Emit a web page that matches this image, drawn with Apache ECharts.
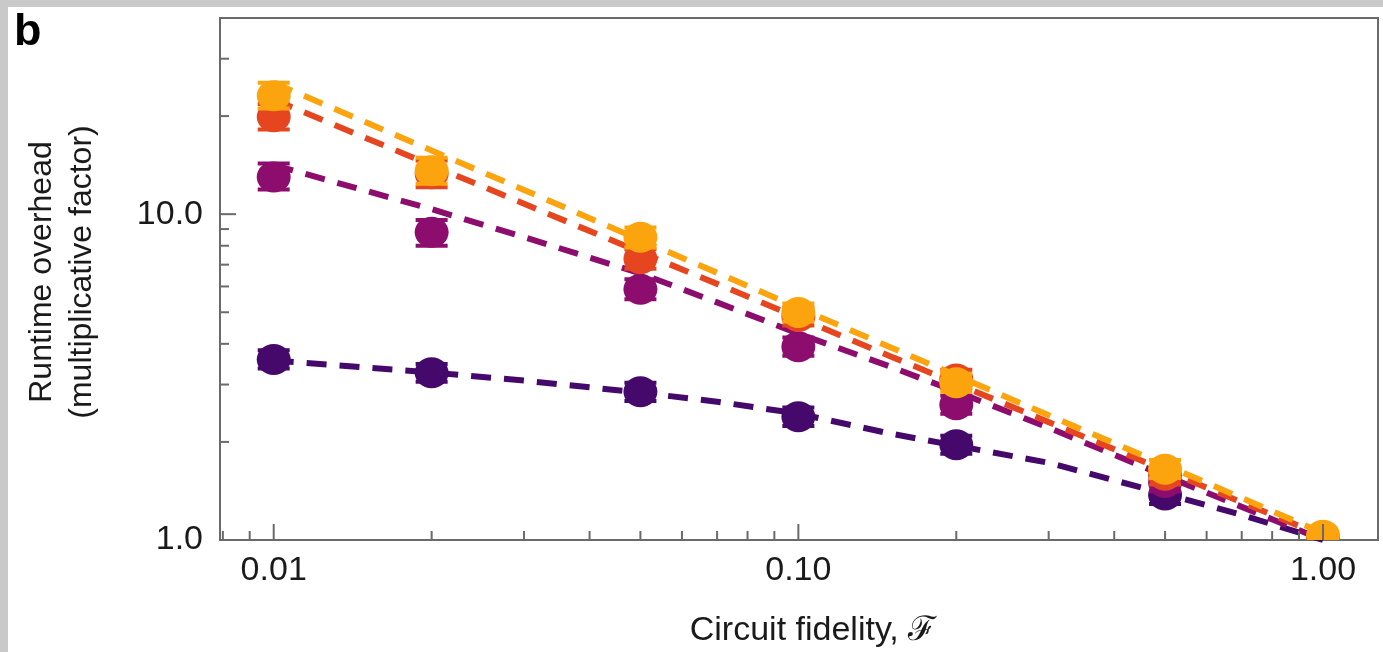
<!DOCTYPE html>
<html>
<head>
<meta charset="utf-8">
<script src="https://cdn.jsdelivr.net/npm/echarts@6/dist/echarts.min.js"></script>
<style>
html,body{margin:0;padding:0;background:#c9c9c9;width:1383px;height:652px;overflow:hidden;}
#chart{position:absolute;left:8px;top:7px;width:1375px;height:645px;background:#ffffff;}
</style>
</head>
<body>
<div id="chart"></div>
<script>
// ---------------- data ----------------
const fidelity = [0.01, 0.02, 0.05, 0.1, 0.2, 0.5, 1.0];

const purpleVals  = [3.58, 3.26, 2.85, 2.39, 1.96, 1.375, 1.0];
const purpleLow   = [3.36, 3.06, 2.67, 2.24, 1.84, 1.29, 1.0];
const purpleHigh  = [3.82, 3.47, 3.04, 2.55, 2.09, 1.47, 1.0];

const magentaVals = [13.0, 8.8, 5.88, 3.92, 2.60, 1.50, 1.0];
const magentaLow  = [11.9, 8.0, 5.48, 3.68, 2.44, 1.41, 1.0];
const magentaHigh = [14.3, 9.6, 6.31, 4.18, 2.77, 1.60, 1.0];

const redVals     = [19.9, 13.3, 7.3, 4.85, 3.12, 1.58, 1.0];
const redLow      = [18.2, 12.1, 6.8, 4.55, 2.93, 1.48, 1.0];
const redHigh     = [21.8, 14.6, 7.8, 5.17, 3.33, 1.68, 1.0];

const orangeVals  = [23.1, 13.6, 8.5, 4.99, 3.04, 1.65, 1.035];
const orangeLow   = [21.1, 12.4, 7.9, 4.68, 2.85, 1.55, 1.035];
const orangeHigh  = [25.3, 14.9, 9.1, 5.32, 3.24, 1.76, 1.035];

// dashed fit curves
const fitF        = [0.01, 0.02, 0.03, 0.05, 0.07, 0.1, 0.15, 0.2, 0.3, 0.5, 0.7, 1.0];
const purpleFit   = [3.555, 3.265, 3.085, 2.834, 2.658, 2.442, 2.120, 1.947, 1.726, 1.385, 1.194, 1.0];
const magentaFit  = [14.15, 10.36, 8.50, 6.58, 5.36, 4.30, 3.40, 2.854, 2.211, 1.574, 1.264, 1.0];
const redFit      = [22.47, 14.12, 10.77, 7.64, 6.11, 4.81, 3.66, 3.02, 2.30, 1.636, 1.305, 1.03];
const orangeFit   = [25.3, 15.68, 11.87, 8.33, 6.61, 5.16, 3.90, 3.20, 2.414, 1.70, 1.345, 1.05];

// axis ranges and ticks
const xRange = [0.0079, 1.273];
const yRange = [1, 40];
const xMajorTicks = [0.01, 0.1, 1.0];
const yMajorTicks = [10];
const xMinorTicks = [0.008, 0.009, 0.02, 0.03, 0.04, 0.05, 0.06, 0.07, 0.08, 0.09,
                     0.2, 0.3, 0.4, 0.5, 0.6, 0.7, 0.8, 0.9];
const yMinorTicks = [2, 3, 4, 5, 6, 7, 8, 9, 20, 30];

const xTitle = 'Circuit fidelity, \u2131';
const yTitle = 'Runtime overhead\n(multiplicative factor)';
const panelLabel = 'b';

// ---------------- styles ----------------
const seriesColors = ['#44096a', '#8c0d6e', '#e6461f', '#fba40e'];
const FONT = '"Liberation Sans", Arial, Helvetica, sans-serif';
const AXIS_GREY = '#6a6a6a';

const groups = [
  {vals: purpleVals,  lo: purpleLow,  hi: purpleHigh,  fit: purpleFit},
  {vals: magentaVals, lo: magentaLow, hi: magentaHigh, fit: magentaFit},
  {vals: redVals,     lo: redLow,     hi: redHigh,     fit: redFit},
  {vals: orangeVals,  lo: orangeLow,  hi: orangeHigh,  fit: orangeFit}
];

function markerRenderer(color) {
  return function (params, api) {
    const x = api.value(0), v = api.value(1), lo = api.value(2), hi = api.value(3);
    const c = api.coord([x, v]);
    const children = [];
    if (hi > lo) {
      const pl = api.coord([x, lo]);
      const ph = api.coord([x, hi]);
      children.push({type: 'line', shape: {x1: c[0], y1: pl[1], x2: c[0], y2: ph[1]},
                     style: {stroke: color, lineWidth: 3}});
      children.push({type: 'line', shape: {x1: c[0] - 16, y1: pl[1], x2: c[0] + 16, y2: pl[1]},
                     style: {stroke: color, lineWidth: 4}});
      children.push({type: 'line', shape: {x1: c[0] - 16, y1: ph[1], x2: c[0] + 16, y2: ph[1]},
                     style: {stroke: color, lineWidth: 4}});
    }
    children.push({type: 'ellipse', shape: {cx: c[0], cy: c[1], rx: 17, ry: 15.5},
                   style: {fill: color}});
    return {type: 'group', children: children};
  };
}

function tickRenderer(dir, len) {
  return function (params, api) {
    const c = api.coord([api.value(0), api.value(1)]);
    const shape = dir === 'x'
      ? {x1: c[0], y1: c[1], x2: c[0], y2: c[1] - len}
      : {x1: c[0], y1: c[1], x2: c[0] + len, y2: c[1]};
    return {type: 'line', shape: shape, style: {stroke: AXIS_GREY, lineWidth: 2}};
  };
}

const series = [];
groups.forEach(function (g, i) {
  const color = seriesColors[i];
  series.push({
    type: 'line',
    data: fitF.map(function (f, k) { return [f, g.fit[k]]; }),
    showSymbol: false,
    symbol: 'none',
    silent: true,
    z: 2 + i * 2,
    lineStyle: {color: color, width: 6, type: [20, 13], cap: 'butt'}
  });
  series.push({
    type: 'custom',
    clip: true,
    z: 3 + i * 2,
    renderItem: markerRenderer(color),
    encode: {x: 0, y: 1},
    data: fidelity.map(function (f, k) { return [f, g.vals[k], g.lo[k], g.hi[k]]; })
  });
});
[[xMinorTicks, 'x', 9], [xMajorTicks, 'x', 16], [yMinorTicks, 'y', 9], [yMajorTicks, 'y', 16]]
  .forEach(function (t) {
    series.push({
      type: 'custom', z: 20, silent: true,
      renderItem: tickRenderer(t[1], t[2]), encode: {x: 0, y: 1},
      data: t[0].map(function (v) { return t[1] === 'x' ? [v, yRange[0]] : [xRange[0], v]; })
    });
  });

function isDecade(v) {
  const l = Math.log10(v);
  return Math.abs(l - Math.round(l)) < 1e-6;
}

const chart = echarts.init(document.getElementById('chart'), null, {renderer: 'canvas'});
chart.setOption({
  animation: false,
  backgroundColor: '#ffffff',
  grid: {
    left: 212, top: 11, right: 5, bottom: 112,
    show: true, borderColor: AXIS_GREY, borderWidth: 2, backgroundColor: '#ffffff',
    containLabel: false, outerBoundsMode: 'none'
  },
  graphic: [{
    type: 'text', left: 6, top: 3, z: 100,
    style: {text: panelLabel, font: 'bold 45px ' + FONT, fill: '#000000'}
  }],
  xAxis: {
    type: 'log', logBase: 10, min: xRange[0], max: xRange[1],
    splitLine: {show: false},
    axisLine: {show: true, lineStyle: {color: AXIS_GREY, width: 2}},
    axisTick: {show: false},
    minorTick: {show: false},
    axisLabel: {
      show: true, margin: 14, color: '#1a1a1a', fontSize: 34, fontFamily: FONT,
      showMinLabel: false, showMaxLabel: false,
      formatter: function (v) { return isDecade(v) ? v.toFixed(2) : ''; }
    },
    name: xTitle, nameLocation: 'middle', nameGap: 74,
    nameTextStyle: {color: '#1a1a1a', fontSize: 34, fontFamily: FONT, padding: [0, 0, 0, 28]}
  },
  yAxis: {
    type: 'log', logBase: 10, min: yRange[0], max: yRange[1],
    splitLine: {show: false},
    axisLine: {show: true, lineStyle: {color: AXIS_GREY, width: 2}},
    axisTick: {show: false},
    minorTick: {show: false},
    axisLabel: {
      show: true, margin: 17, color: '#1a1a1a', fontSize: 34, fontFamily: FONT,
      showMaxLabel: false,
      formatter: function (v) { return isDecade(v) ? v.toFixed(1) : ''; }
    },
    name: yTitle, nameLocation: 'middle', nameGap: 118, nameRotate: 90,
    nameTextStyle: {color: '#1a1a1a', fontSize: 32, lineHeight: 40, fontFamily: FONT, padding: [0, 0, 0, 14]}
  },
  series: series
});
</script>
</body>
</html>
